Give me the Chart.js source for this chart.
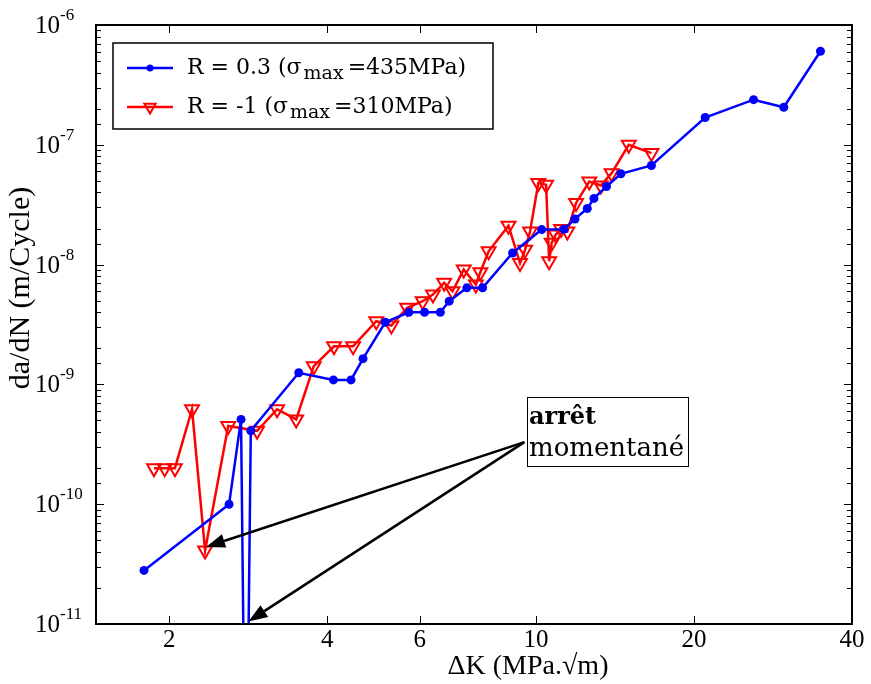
<!DOCTYPE html>
<html>
<head>
<meta charset="utf-8">
<script src="https://cdn.jsdelivr.net/npm/chart.js@4/dist/chart.umd.min.js"></script>
<style>
  body { margin: 0; background: #fff; }
  #wrap { width: 871px; height: 684px; }
</style>
</head>
<body>
<div id="wrap"><canvas id="crack-growth"></canvas></div>
<script>
// R = 0.3 series (sigma max = 435 MPa)
const blueK = [1.79, 2.60, 2.74, 2.80, 2.86, 3.53, 4.11, 4.44, 4.68, 5.16,
  5.72, 6.13, 6.57, 6.83, 7.38, 7.91, 9.02, 10.25, 11.3, 11.86,
  12.52, 12.89, 13.62, 14.51, 16.59, 21.0, 25.97, 29.65, 34.83];
const blueRate = [2.8e-11, 1.0e-10, 5.1e-10, 1e-13, 4.1e-10, 1.25e-9, 1.09e-9, 1.09e-9, 1.64e-9, 3.3e-9,
  4.0e-9, 4.0e-9, 4.0e-9, 4.95e-9, 6.4e-9, 6.4e-9, 1.25e-8, 1.96e-8, 1.97e-8, 2.4e-8,
  2.94e-8, 3.57e-8, 4.49e-8, 5.73e-8, 6.72e-8, 1.69e-7, 2.38e-7, 2.06e-7, 6.04e-7];

// R = -1 series (sigma max = 310 MPa)
const redK = [1.87, 1.96, 2.05, 2.21, 2.34, 2.59, 2.94, 3.21, 3.49, 3.77,
  4.12, 4.48, 4.96, 5.30, 5.68, 6.08, 6.36, 6.68, 6.93, 7.28,
  7.68, 7.83, 8.12, 8.86, 9.32, 9.53, 9.74, 10.1, 10.45, 10.59,
  10.71, 10.9, 11.16, 11.47, 11.92, 12.63, 13.29, 13.93, 15.02, 16.59];
const redRate = [2.0e-10, 2.0e-10, 2.0e-10, 6.2e-10, 4.1e-11, 4.5e-10, 4.1e-10, 6.2e-10, 5.1e-10, 1.42e-9,
  2.08e-9, 2.08e-9, 3.37e-9, 3.1e-9, 4.36e-9, 4.95e-9, 5.62e-9, 7.04e-9, 5.99e-9, 9.08e-9,
  6.81e-9, 8.63e-9, 1.29e-8, 2.11e-8, 1.03e-8, 1.33e-8, 1.89e-8, 4.8e-8, 4.64e-8, 1.065e-8,
  1.52e-8, 1.78e-8, 1.98e-8, 1.89e-8, 3.27e-8, 4.94e-8, 4.58e-8, 5.8e-8, 1.0e-7, 8.53e-8];

// axes
const xTicks = [2, 4, 6, 10, 20, 40];
const xTitle = 'ΔK (MPa.√m)';
const yTitle = 'da/dN (m/Cycle)';

// legend and annotation text
const seriesNames = [["R = 0.3 (σ", "max", "=435MPa)"], ["R = -1 (σ", "max", "=310MPa)"]];
const noteLines = ["arrêt", "momentané"];
const noteFrom = { x: 9.5, y: 3.3e-10 };
const noteTargets = [{ x: 2.35, y: 4.4e-11 }, { x: 2.83, y: 1.05e-11 }];

const serif = "'Liberation Serif', 'Times New Roman', serif";
const legendFont = "'DejaVu Serif', serif";

function isDecade(v) {
  const l = Math.log10(v);
  return Math.abs(l - Math.round(l)) < 1e-6;
}

function arrow(ctx, x1, y1, x2, y2) {
  const ang = Math.atan2(y2 - y1, x2 - x1);
  const len = 19, half = 7;
  const bx = x2 - Math.cos(ang) * len, by = y2 - Math.sin(ang) * len;
  ctx.beginPath();
  ctx.moveTo(x1, y1);
  ctx.lineTo(bx, by);
  ctx.stroke();
  ctx.beginPath();
  ctx.moveTo(x2, y2);
  ctx.lineTo(bx + Math.sin(ang) * half, by - Math.cos(ang) * half);
  ctx.lineTo(bx - Math.sin(ang) * half, by + Math.cos(ang) * half);
  ctx.closePath();
  ctx.fill();
}

const decorations = {
  id: 'decorations',
  afterDatasetsDraw(chart) {
    const { ctx, scales: { x, y } } = chart;
    ctx.save();
    ctx.strokeStyle = '#000';
    ctx.fillStyle = '#000';
    ctx.lineWidth = 2.5;
    const sx = x.getPixelForValue(noteFrom.x), sy = y.getPixelForValue(noteFrom.y);
    noteTargets.forEach(t => arrow(ctx, sx, sy, x.getPixelForValue(t.x), y.getPixelForValue(t.y)));
    ctx.restore();
  },
  afterDraw(chart) {
    const { ctx, chartArea: a, scales: { x, y } } = chart;
    ctx.save();
    // inward ticks on all four sides
    ctx.strokeStyle = '#000';
    ctx.lineWidth = 1;
    y.ticks.forEach(t => {
      const p = Math.round(y.getPixelForValue(t.value)) + 0.5;
      const len = isDecade(t.value) ? 8 : 5;
      ctx.beginPath();
      ctx.moveTo(a.left, p); ctx.lineTo(a.left + len, p);
      ctx.moveTo(a.right, p); ctx.lineTo(a.right - len, p);
      ctx.stroke();
    });
    x.ticks.forEach(t => {
      const p = Math.round(x.getPixelForValue(t.value)) + 0.5;
      ctx.beginPath();
      ctx.moveTo(p, a.bottom); ctx.lineTo(p, a.bottom - 8);
      ctx.moveTo(p, a.top); ctx.lineTo(p, a.top + 8);
      ctx.stroke();
    });
    ctx.lineWidth = 2;
    ctx.strokeRect(a.left, a.top, a.right - a.left, a.bottom - a.top);

    // tick labels, placed from the scales
    ctx.fillStyle = '#000';
    ctx.font = '25px ' + serif;
    ctx.textAlign = 'center';
    ctx.textBaseline = 'middle';
    x.ticks.forEach(t => ctx.fillText(String(t.value), x.getPixelForValue(t.value), 640));
    ctx.textAlign = 'left';
    ctx.textBaseline = 'alphabetic';
    y.ticks.filter(t => isDecade(t.value)).forEach(t => {
      const p = y.getPixelForValue(t.value);
      ctx.font = '25px ' + serif;
      ctx.fillText('10', 35, p + 8);
      ctx.font = '17px ' + serif;
      ctx.fillText(String(Math.round(Math.log10(t.value))), 60, p - 5);
    });

    // axis titles
    ctx.font = '28px ' + serif;
    ctx.textAlign = 'center';
    ctx.textBaseline = 'middle';
    ctx.fillText(xTitle, 528, 667);
    ctx.save();
    ctx.translate(21, 288);
    ctx.rotate(-Math.PI / 2);
    ctx.font = '30px ' + serif;
    ctx.fillText(yTitle, 0, 0);
    ctx.restore();

    // legend
    const lx = 113, ly = 43, lw = 380, lh = 86;
    ctx.fillStyle = '#fff';
    ctx.fillRect(lx, ly, lw, lh);
    ctx.strokeStyle = '#000';
    ctx.lineWidth = 1.5;
    ctx.strokeRect(lx, ly, lw, lh);
    const rows = [68, 107];
    chart.data.datasets.forEach((ds, i) => {
      const ry = rows[i];
      ctx.strokeStyle = ds.borderColor;
      ctx.lineWidth = 2.5;
      ctx.beginPath();
      ctx.moveTo(127, ry); ctx.lineTo(173, ry);
      ctx.stroke();
      ctx.fillStyle = ds.pointBackgroundColor;
      ctx.strokeStyle = ds.pointBorderColor;
      ctx.lineWidth = ds.pointBorderWidth;
      Chart.helpers.drawPoint(ctx, {
        pointStyle: ds.pointStyle, rotation: ds.pointRotation,
        radius: i === 0 ? 3.5 : 6.5, borderWidth: ds.pointBorderWidth
      }, 150, ry);
      const parts = seriesNames[i];
      ctx.fillStyle = '#000';
      ctx.textAlign = 'left';
      ctx.textBaseline = 'alphabetic';
      let tx = 187;
      ctx.font = '22px ' + legendFont;
      ctx.fillText(parts[0], tx, ry + 6);
      tx += ctx.measureText(parts[0]).width + 2;
      ctx.font = '19px ' + legendFont;
      ctx.fillText(parts[1], tx, ry + 11);
      tx += ctx.measureText(parts[1]).width + 4;
      ctx.font = '22px ' + legendFont;
      ctx.fillText(parts[2], tx, ry + 6);
    });

    // annotation box
    ctx.fillStyle = '#fff';
    ctx.fillRect(527, 397, 161, 69);
    ctx.strokeStyle = '#000';
    ctx.lineWidth = 1;
    ctx.strokeRect(527.5, 397.5, 161, 69);
    ctx.fillStyle = '#000';
    ctx.textAlign = 'left';
    ctx.font = 'bold 24px ' + legendFont;
    ctx.fillText(noteLines[0], 529, 424);
    ctx.font = '26px ' + legendFont;
    ctx.fillText(noteLines[1], 529, 456);
    ctx.restore();
  }
};

new Chart('crack-growth', {
  type: 'line',
  data: {
    datasets: [
      {
        label: seriesNames[0].join(''),
        data: blueK.map((k, i) => ({ x: k, y: blueRate[i] })),
        borderColor: '#0000ff',
        borderWidth: 2.5,
        pointStyle: 'circle',
        pointRotation: 0,
        pointRadius: 4.5,
        pointBackgroundColor: '#0000ff',
        pointBorderColor: '#0000ff',
        pointBorderWidth: 0,
        tension: 0
      },
      {
        label: seriesNames[1].join(''),
        data: redK.map((k, i) => ({ x: k, y: redRate[i] })),
        borderColor: '#ff0000',
        borderWidth: 2.5,
        pointStyle: 'triangle',
        pointRotation: 180,
        pointRadius: 8,
        pointBackgroundColor: 'rgba(0,0,0,0)',
        pointBorderColor: '#ff0000',
        pointBorderWidth: 2,
        tension: 0
      }
    ]
  },
  options: {
    responsive: true,
    maintainAspectRatio: false,
    animation: false,
    events: [],
    layout: { padding: { top: 25, right: 19, bottom: 0, left: 0 } },
    plugins: { legend: { display: false }, tooltip: { enabled: false } },
    scales: {
      x: {
        type: 'logarithmic',
        min: 1.45,
        max: 40,
        grid: { display: false },
        border: { display: false },
        afterBuildTicks: s => { s.ticks = xTicks.map(v => ({ value: v })); },
        afterFit: s => { s.height = 60; },
        ticks: { display: false, autoSkip: false }
      },
      y: {
        type: 'logarithmic',
        min: 1e-11,
        max: 1e-6,
        grid: { display: false },
        border: { display: false },
        afterFit: s => { s.width = 96; },
        ticks: { display: false, autoSkip: false }
      }
    }
  },
  plugins: [decorations]
});
</script>
</body>
</html>
